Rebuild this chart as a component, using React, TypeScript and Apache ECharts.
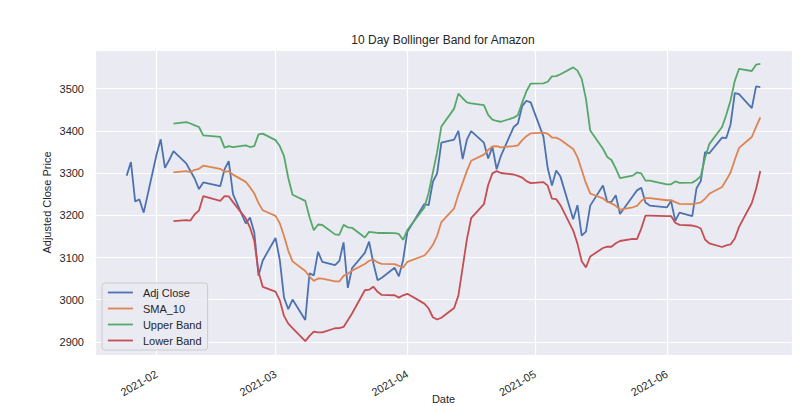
import React, { useEffect, useRef } from 'react';
import * as echarts from 'echarts';

const dates: string[] = [
  '2021-01-25', '2021-01-26', '2021-01-27', '2021-01-28', '2021-01-29',
  '2021-02-01', '2021-02-02', '2021-02-03', '2021-02-04', '2021-02-05', '2021-02-08', '2021-02-09', '2021-02-10',
  '2021-02-11', '2021-02-12', '2021-02-16', '2021-02-17', '2021-02-18', '2021-02-19', '2021-02-22', '2021-02-23',
  '2021-02-24', '2021-02-25', '2021-02-26',
  '2021-03-01', '2021-03-02', '2021-03-03', '2021-03-04', '2021-03-05', '2021-03-08', '2021-03-09', '2021-03-10',
  '2021-03-11', '2021-03-12', '2021-03-15', '2021-03-16', '2021-03-17', '2021-03-18', '2021-03-19', '2021-03-22',
  '2021-03-23', '2021-03-24', '2021-03-25', '2021-03-26', '2021-03-29', '2021-03-30', '2021-03-31',
  '2021-04-01', '2021-04-05', '2021-04-06', '2021-04-07', '2021-04-08', '2021-04-09', '2021-04-12', '2021-04-13',
  '2021-04-14', '2021-04-15', '2021-04-16', '2021-04-19', '2021-04-20', '2021-04-21', '2021-04-22', '2021-04-23',
  '2021-04-26', '2021-04-27', '2021-04-28', '2021-04-29', '2021-04-30',
  '2021-05-03', '2021-05-04', '2021-05-05', '2021-05-06', '2021-05-07', '2021-05-10', '2021-05-11', '2021-05-12',
  '2021-05-13', '2021-05-14', '2021-05-17', '2021-05-18', '2021-05-19', '2021-05-20', '2021-05-21', '2021-05-24',
  '2021-05-25', '2021-05-26', '2021-05-27', '2021-05-28',
  '2021-06-01', '2021-06-02', '2021-06-03', '2021-06-04', '2021-06-07', '2021-06-08', '2021-06-09', '2021-06-10',
  '2021-06-11', '2021-06-14', '2021-06-15', '2021-06-16', '2021-06-17', '2021-06-18', '2021-06-21', '2021-06-22',
  '2021-06-23',
];

const adjClose: number[] = [
  3294.0, 3326.13, 3232.58, 3237.62, 3206.2, 3342.88, 3380.0, 3312.53, 3331.0, 3352.15,
  3322.94, 3305.0, 3286.58, 3262.13, 3277.71, 3268.95, 3308.64, 3328.23, 3249.9, 3180.74,
  3194.5, 3159.53, 3057.16, 3092.93, 3146.14, 3094.53, 3005.0, 2977.57, 3000.46, 2951.95,
  3062.85, 3057.64, 3113.59, 3089.49, 3081.68, 3091.86, 3135.73, 3027.99, 3074.96, 3110.87,
  3137.5, 3087.07, 3046.26, 3052.03, 3075.73, 3055.29, 3094.08, 3161.0, 3226.73, 3223.82,
  3279.39, 3299.3, 3372.2, 3379.39, 3400.0, 3333.0, 3379.09, 3399.44, 3372.01, 3334.69,
  3362.02, 3309.04, 3340.88, 3409.0, 3417.43, 3458.5, 3471.31, 3467.42, 3386.49, 3311.87,
  3270.54, 3306.37, 3291.61, 3190.49, 3223.91, 3151.94, 3161.47, 3222.9, 3270.39, 3232.28,
  3231.8, 3247.68, 3203.08, 3244.99, 3259.05, 3265.16, 3230.11, 3223.07, 3218.65, 3233.99,
  3187.01, 3206.22, 3198.01, 3264.11, 3281.15, 3349.65, 3346.83, 3383.87, 3383.13, 3415.25,
  3489.24, 3486.9, 3453.96, 3505.44, 3503.82,
];

// 10-day values, starting on the 10th trading day (2021-02-05)
const sma10: number[] = [
  3301.6, 3304.5, 3302.4, 3307.8, 3310.2, 3317.4, 3310.0, 3302.9, 3304.4, 3296.3,
  3279.2, 3266.3, 3251.8, 3228.8, 3211.9, 3198.7, 3181.3, 3150.9, 3115.9, 3090.9,
  3068.0, 3054.9, 3044.7, 3050.4, 3050.0, 3043.6, 3043.3, 3056.4, 3061.4, 3068.9,
  3084.8, 3092.3, 3095.2, 3088.4, 3084.7, 3084.1, 3080.4, 3076.2, 3089.5, 3104.7,
  3116.0, 3130.1, 3151.3, 3183.9, 3216.6, 3249.0, 3276.8, 3305.3, 3329.1, 3343.6,
  3354.7, 3363.0, 3364.0, 3360.9, 3363.9, 3365.6, 3378.2, 3387.4, 3394.2, 3395.6,
  3393.3, 3384.2, 3383.9, 3379.0, 3357.1, 3337.8, 3307.1, 3276.1, 3251.7, 3240.1,
  3232.1, 3228.2, 3222.4, 3213.5, 3219.0, 3222.5, 3233.8, 3240.7, 3240.7, 3235.6,
  3235.8, 3231.3, 3227.1, 3226.6, 3228.5, 3230.7, 3239.2, 3250.9, 3267.0, 3283.4,
  3301.5, 3331.7, 3359.8, 3385.4, 3409.5, 3431.8,
];

const upperBand: number[] = [
  3417.0, 3420.5, 3417.4, 3413.0, 3409.2, 3389.5, 3385.6, 3360.4, 3363.8, 3361.4,
  3365.6, 3361.7, 3363.7, 3391.6, 3393.4, 3378.0, 3364.0, 3340.2, 3288.4, 3248.8,
  3234.1, 3195.5, 3164.7, 3178.2, 3177.2, 3154.8, 3153.9, 3177.3, 3171.6, 3170.4,
  3147.2, 3160.8, 3159.5, 3158.1, 3158.1, 3157.6, 3155.9, 3142.0, 3165.0, 3218.7,
  3252.8, 3301.7, 3349.5, 3410.4, 3452.7, 3488.2, 3477.3, 3467.7, 3465.1, 3460.9,
  3437.7, 3426.7, 3423.4, 3421.6, 3431.2, 3437.7, 3467.0, 3493.9, 3512.1, 3512.6,
  3516.4, 3529.1, 3529.5, 3534.0, 3550.4, 3542.7, 3523.0, 3475.8, 3401.0, 3357.7,
  3338.3, 3330.9, 3311.2, 3287.9, 3293.9, 3301.5, 3299.2, 3282.1, 3282.1, 3273.4,
  3273.5, 3280.1, 3276.8, 3277.4, 3283.6, 3292.6, 3335.7, 3368.5, 3409.1, 3438.2,
  3472.1, 3518.4, 3547.0, 3541.8, 3556.7, 3558.7,
];

const lowerBand: number[] = [
  3186.2, 3188.5, 3187.4, 3202.6, 3211.2, 3245.3, 3234.4, 3245.4, 3245.0, 3231.2,
  3192.8, 3170.9, 3139.9, 3066.0, 3030.4, 3019.4, 2998.6, 2961.6, 2943.4, 2933.0,
  2901.9, 2914.3, 2924.7, 2922.6, 2922.8, 2932.4, 2932.7, 2935.5, 2951.2, 2967.4,
  3022.4, 3023.8, 3030.9, 3018.7, 3011.3, 3010.6, 3004.9, 3010.4, 3014.0, 2990.7,
  2979.2, 2958.5, 2953.1, 2957.4, 2980.5, 3009.8, 3076.3, 3142.9, 3193.1, 3226.3,
  3271.7, 3299.3, 3304.6, 3300.2, 3296.6, 3293.5, 3289.4, 3280.9, 3276.3, 3278.6,
  3270.2, 3239.3, 3238.3, 3224.0, 3163.8, 3132.9, 3091.2, 3076.4, 3102.4, 3122.5,
  3125.9, 3125.5, 3133.6, 3139.1, 3144.1, 3143.5, 3168.4, 3199.3, 3199.3, 3197.8,
  3198.1, 3182.5, 3177.4, 3175.8, 3173.4, 3168.8, 3142.7, 3133.3, 3124.9, 3128.6,
  3130.9, 3145.0, 3172.6, 3229.0, 3262.3, 3304.9,
];

const seriesNames = ['Adj Close', 'SMA_10', 'Upper Band', 'Lower Band'];
const seriesColors = ['#4c72b0', '#dd8452', '#55a868', '#c44e52'];
const monthLabels = ['2021-02', '2021-03', '2021-04', '2021-05', '2021-06'];

const FONT = '"Liberation Sans", Arial, Helvetica, sans-serif';
const TEXT = '#262626';

function parseDay(s: string): number {
  const [y, m, d] = s.split('-').map(Number);
  return new Date(y, m - 1, d).getTime();
}

export default function App() {
  const ref = useRef<HTMLDivElement>(null);

  useEffect(() => {
    document.body.style.margin = '0';
    if (!ref.current) return;
    const chart = echarts.init(ref.current, null, { renderer: 'svg' });

    const offset = dates.length - sma10.length;
    const pair = (vals: number[], start: number) => vals.map((v, i) => [dates[start + i], v]);

    const first = parseDay(dates[0]);
    const last = parseDay(dates[dates.length - 1]);
    const span = last - first;
    const xMin = first - span * 0.05;
    const xMax = last + span * 0.05;

    const allVals = [...adjClose, ...upperBand, ...lowerBand];
    const vMin = Math.min(...allVals);
    const vMax = Math.max(...allVals);
    const yMin = vMin - (vMax - vMin) * 0.05;
    const yMax = vMax + (vMax - vMin) * 0.05;

    const seriesData = [pair(adjClose, 0), pair(sma10, offset), pair(upperBand, offset), pair(lowerBand, offset)];

    chart.setOption({
      animation: false,
      backgroundColor: '#ffffff',
      textStyle: { fontFamily: FONT },
      title: {
        text: '10 Day Bollinger Band for Amazon',
        left: 443,
        top: 34,
        textAlign: 'center',
        padding: 0,
        textStyle: { fontSize: 12, fontWeight: 'normal', color: TEXT, fontFamily: FONT },
      },
      grid: {
        left: 95,
        top: 50,
        right: 18,
        bottom: 51,
        show: true,
        backgroundColor: '#eaeaf2',
        borderWidth: 0,
        containLabel: false,
        outerBoundsMode: 'none',
      },
      legend: {
        orient: 'vertical',
        left: 102,
        top: 283,
        data: seriesNames,
        itemWidth: 25,
        itemHeight: 12,
        itemGap: 5,
        padding: [4, 6, 4, 5],
        backgroundColor: 'rgba(234,234,242,0.8)',
        borderColor: '#cccccc',
        borderWidth: 1,
        borderRadius: 3,
        itemStyle: { opacity: 0 },
        lineStyle: { width: 1.8 },
        textStyle: { fontSize: 11, color: TEXT, fontFamily: FONT, padding: [0, 0, 0, 5] },
      },
      xAxis: {
        type: 'time',
        min: xMin,
        max: xMax,
        splitNumber: 5,
        minInterval: 28 * 86400000,
        name: 'Date',
        nameLocation: 'middle',
        nameGap: 38,
        nameMoveOverlap: false,
        nameTextStyle: { fontSize: 11, color: TEXT, fontFamily: FONT, verticalAlign: 'top' },
        axisLine: { show: false },
        axisTick: { show: false },
        axisLabel: {
          rotate: 30,
          margin: 18,
          fontSize: 11,
          color: TEXT,
          fontFamily: FONT,
          showMinLabel: false,
          showMaxLabel: false,
          hideOverlap: false,
          formatter: (val: number) => {
            const d = new Date(val);
            const s = `${d.getFullYear()}-${String(d.getMonth() + 1).padStart(2, '0')}`;
            return d.getDate() === 1 && monthLabels.includes(s) ? s : '';
          },
        },
        splitLine: { show: true, lineStyle: { color: '#ffffff', width: 1.2 } },
      },
      yAxis: {
        type: 'value',
        min: yMin,
        max: yMax,
        splitNumber: 7,
        name: 'Adjusted Close Price',
        nameLocation: 'middle',
        nameGap: 43,
        nameMoveOverlap: false,
        nameTextStyle: { fontSize: 11, color: TEXT, fontFamily: FONT },
        axisLine: { show: false },
        axisTick: { show: false },
        axisLabel: {
          margin: 11,
          fontSize: 11,
          color: TEXT,
          fontFamily: FONT,
          showMinLabel: false,
          showMaxLabel: false,
          formatter: (v: number) => String(Math.round(v)),
        },
        splitLine: { show: true, lineStyle: { color: '#ffffff', width: 1.2 } },
      },
      series: seriesNames.map((name, i) => ({
        name,
        type: 'line',
        data: seriesData[i],
        symbol: 'none',
        showSymbol: false,
        color: seriesColors[i],
        lineStyle: { color: seriesColors[i], width: 1.8 },
        z: 2 + i,
      })),
    });

    return () => chart.dispose();
  }, []);

  return <div ref={ref} style={{ width: 810, height: 406 }} />;
}
